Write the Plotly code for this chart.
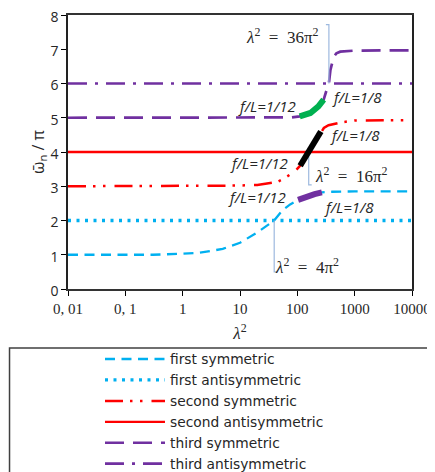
import numpy as np
import plotly.graph_objects as go

# ---------------- data ----------------
lam_flat = [0.01, 10000]

lam_first_sym = [0.01, 0.1, 0.3, 1, 2, 5, 10, 20, 30, 39.5, 55, 75, 103, 150, 200, 268, 400, 1000, 10000]
first_sym = [1.0, 1.0, 1.0, 1.03, 1.06, 1.17, 1.35, 1.65, 1.85, 2.0, 2.3, 2.47, 2.6, 2.71, 2.77, 2.82, 2.84, 2.85, 2.85]

first_anti = [2, 2]

lam_second_sym = [0.01, 1, 10, 20, 30, 44, 55, 70, 89, 112, 158, 200, 257, 290, 350, 560, 1000, 10000]
second_sym = [3.0, 3.0, 3.02, 3.04, 3.07, 3.12, 3.2, 3.3, 3.42, 3.6, 4.0, 4.3, 4.6, 4.7, 4.78, 4.86, 4.92, 4.93]

second_anti = [4, 4]

lam_third_sym = [0.01, 1, 10, 50, 80, 110, 169, 233, 288, 320, 355, 378, 432, 480, 560, 1000, 10000]
third_sym = [5.0, 5.0, 5.0, 5.0, 5.01, 5.04, 5.14, 5.33, 5.53, 5.78, 6.0, 6.4, 6.78, 6.88, 6.93, 6.96, 6.97]

third_anti = [6, 6]

# thick segments: range 1/12 <= f/L <= 1/8
seg_first_lam = [103, 150, 200, 268]
seg_first = [2.6, 2.71, 2.77, 2.82]
seg_second_lam = [112, 158, 200, 257]
seg_second = [3.6, 4.0, 4.3, 4.6]
seg_third_lam = [110, 169, 233, 288]
seg_third = [5.04, 5.14, 5.33, 5.53]

# crossing marks lambda^2 = 4pi^2, 16pi^2, 36pi^2
mark_lam = [4 * np.pi ** 2, 16 * np.pi ** 2, 36 * np.pi ** 2]
mark_y_cross = [2, 4, 6]
mark_y_end = [0.5, 3.04, 7.72]
mark_tick_dir = [1, 1, -1]
mark_text = ["<i>λ</i><sup>2</sup>\u2002=\u20024π<sup>2</sup>",
             "<i>λ</i><sup>2</sup>\u2002=\u200216π<sup>2</sup>",
             "<i>λ</i><sup>2</sup>\u2002=\u200236π<sup>2</sup>"]

x_tickvals = [0.01, 0.1, 1, 10, 100, 1000, 10000]
x_ticktext = ["0, 01", "0, 1", "1", "10", "100", "1000", "10000"]

# ---------------- styles ----------------
BLUE = "#00B0F0"
RED = "#FF0000"
PURPLE = "#7030A0"
GREEN = "#00B050"
CALLOUT = "#9DB9DF"
TXT = "#262626"

fig = go.Figure()

fig.add_trace(go.Scatter(x=lam_first_sym, y=first_sym, mode="lines", name="first symmetric",
                         line=dict(color=BLUE, width=2.3, dash="10px,6.5px")))
fig.add_trace(go.Scatter(x=lam_flat, y=first_anti, mode="lines", name="first antisymmetric",
                         line=dict(color=BLUE, width=3.3, dash="3px,5.5px")))
fig.add_trace(go.Scatter(x=lam_second_sym, y=second_sym, mode="lines", name="second symmetric",
                         line=dict(color=RED, width=2.5, dash="18px,7px,2.5px,7.5px,2.5px,9px")))
fig.add_trace(go.Scatter(x=lam_flat, y=second_anti, mode="lines", name="second antisymmetric",
                         line=dict(color=RED, width=2.3)))
fig.add_trace(go.Scatter(x=lam_third_sym, y=third_sym, mode="lines", name="third symmetric",
                         line=dict(color=PURPLE, width=2.7, dash="19px,9px")))
fig.add_trace(go.Scatter(x=lam_flat, y=third_anti, mode="lines", name="third antisymmetric",
                         line=dict(color=PURPLE, width=2.7, dash="19px,8px,3px,8px")))

# callout lines
tick_factor = 10 ** (3 / 57.23)
for lam, yc, ye, d in zip(mark_lam, mark_y_cross, mark_y_end, mark_tick_dir):
    fig.add_trace(go.Scatter(x=[lam, lam, lam * tick_factor ** d], y=[yc, ye, ye], mode="lines",
                             line=dict(color=CALLOUT, width=1.2), showlegend=False, hoverinfo="skip"))

# thick segments
fig.add_trace(go.Scatter(x=seg_first_lam, y=seg_first, mode="lines", showlegend=False,
                         line=dict(color=PURPLE, width=6)))
fig.add_trace(go.Scatter(x=seg_second_lam, y=seg_second, mode="lines", showlegend=False,
                         line=dict(color="black", width=6)))
fig.add_trace(go.Scatter(x=seg_third_lam, y=seg_third, mode="lines", showlegend=False,
                         line=dict(color=GREEN, width=6)))

annotations = []
serif = dict(family="Liberation Serif", size=17, color=TXT)
# lambda labels (x in log10 units for log axis)
ann_pos = [(1.582, 0.66, "left"), (2.281, 3.33, "left"), (2.421, 7.40, "right")]
for (ax_, ay_, anc), t in zip(ann_pos, mark_text):
    annotations.append(dict(x=ax_, y=ay_, xref="x", yref="y", text=t, showarrow=False,
                            xanchor=anc, yanchor="middle", font=serif))

italic = dict(family="Open Sans", size=15, color=TXT)
fl_labels = [
    (2.019, 5.33, "right", "<i>f/L=1/12</i>"),
    (2.578, 5.61, "left", "<i>f/L=1/8</i>"),
    (2.543, 4.50, "left", "<i>f/L=1/8</i>"),
    (1.879, 3.68, "right", "<i>f/L=1/12</i>"),
    (1.844, 2.69, "right", "<i>f/L=1/12</i>"),
    (2.438, 2.40, "left", "<i>f/L=1/8</i>"),
]
for ax_, ay_, anc, t in fl_labels:
    annotations.append(dict(x=ax_, y=ay_, xref="x", yref="y", text=t, showarrow=False,
                            xanchor=anc, yanchor="middle", font=italic))

# the page body has an 8px margin, so the figure is sized/offset to compensate
fig.update_layout(
    width=427, height=464,
    margin=dict(l=60, r=23, t=7, b=183, autoexpand=False),
    paper_bgcolor="white", plot_bgcolor="white",
    showlegend=True,
    legend=dict(x=0.093, y=-0.199, xanchor="left", yanchor="top",
                bgcolor="rgba(0,0,0,0)", borderwidth=0, itemwidth=60,
                font=dict(family="DejaVu Sans", size=13.8, color=TXT),
                tracegroupgap=0),
    annotations=annotations,
    shapes=[dict(type="rect", xref="paper", yref="paper",
                 x0=-0.170, x1=1.055, y0=-0.215, y1=-0.70,
                 line=dict(color="#404040", width=1.5), fillcolor="rgba(0,0,0,0)", layer="above")],
    xaxis=dict(type="log", range=[-2, 4], tickvals=x_tickvals, ticktext=x_ticktext,
               ticks="outside", ticklen=5, tickwidth=1.3, tickcolor="black",
               showline=True, linecolor="#333333", linewidth=1.5, mirror=True,
               showgrid=False, zeroline=False, automargin=False, ticklabeloverflow="allow",
               tickfont=dict(family="Liberation Serif", size=15, color=TXT),
               title=dict(text="<i>λ</i><sup>2</sup>", standoff=11,
                          font=dict(family="Liberation Serif", size=17, color=TXT))),
    yaxis=dict(range=[0, 8], tickvals=list(range(0, 9)),
               ticks="outside", ticklen=5, tickwidth=1.3, tickcolor="black",
               showline=True, linecolor="#222222", linewidth=1.5, mirror=True,
               showgrid=False, zeroline=False, automargin=False, ticklabeloverflow="allow",
               ticklabelshift=2,
               tickfont=dict(family="Open Sans", size=14, color=TXT),
               title=dict(text="ω\u0304<sub>n</sub> / π\u00a0\u00a0\u00a0\u00a0\u00a0\u00a0", standoff=0,
                          font=dict(family="Open Sans", size=16, color=TXT))),
)

fig.write_html("out.html")
